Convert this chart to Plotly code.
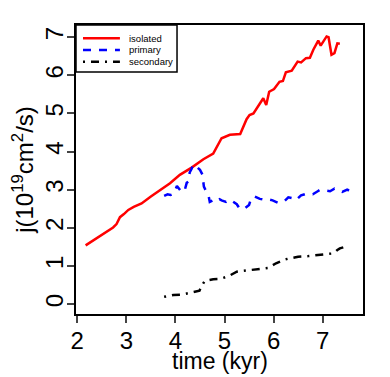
import plotly.graph_objects as go

# angular momentum vs time
isolated_t = [2.17, 2.45, 2.73, 2.80, 2.87, 2.95, 3.04, 3.15, 3.31, 3.50, 3.70, 3.89, 4.09, 4.33,
              4.57, 4.77, 4.94, 5.11, 5.32, 5.38, 5.45, 5.51, 5.59, 5.79, 5.85, 5.91, 6.01, 6.12,
              6.19, 6.25, 6.37, 6.49, 6.56, 6.66, 6.74, 6.81, 6.91, 6.96, 7.08, 7.12, 7.18, 7.24,
              7.30, 7.35]
isolated_j = [1.54, 1.77, 2.01, 2.10, 2.28, 2.36, 2.47, 2.55, 2.64, 2.82, 3.00, 3.17, 3.39, 3.58,
              3.80, 3.95, 4.35, 4.44, 4.46, 4.65, 4.85, 4.96, 5.00, 5.40, 5.22, 5.57, 5.64, 5.83,
              5.85, 6.08, 6.12, 6.36, 6.34, 6.45, 6.46, 6.67, 6.91, 6.78, 7.02, 7.00, 6.54, 6.58,
              6.84, 6.83]

primary_t = [3.77, 3.84, 3.90, 3.97, 4.03, 4.10, 4.18, 4.23, 4.27, 4.29, 4.33, 4.36, 4.42, 4.50,
             4.55, 4.58, 4.63, 4.67, 4.70, 4.76, 4.84, 4.90, 4.94, 5.03, 5.11, 5.18, 5.25, 5.30,
             5.35, 5.42, 5.50, 5.55, 5.62, 5.72, 5.80, 5.86, 5.98, 6.10, 6.22, 6.30, 6.37, 6.45,
             6.56, 6.68, 6.80, 6.90, 6.95, 7.05, 7.15, 7.24, 7.29, 7.40, 7.50, 7.56, 7.65]
primary_j = [2.84, 2.88, 2.86, 2.90, 3.10, 2.98, 2.94, 3.18, 3.22, 3.45, 3.55, 3.66, 3.62, 3.52,
             3.40, 3.08, 2.95, 2.88, 2.68, 2.72, 2.68, 2.75, 2.72, 2.68, 2.74, 2.68, 2.62, 2.52,
             2.48, 2.52, 2.60, 2.80, 2.82, 2.76, 2.74, 2.76, 2.72, 2.65, 2.70, 2.80, 2.78, 2.72,
             2.85, 2.90, 2.88, 2.96, 3.00, 2.98, 2.96, 3.03, 3.00, 2.94, 3.00, 2.97, 2.94]

secondary_t = [3.77, 3.96, 4.13, 4.30, 4.49, 4.53, 4.60, 4.77, 4.91, 5.08, 5.25, 5.38, 5.59, 5.79,
               5.89, 6.05, 6.23, 6.33, 6.50, 6.71, 6.84, 7.05, 7.22, 7.30, 7.35, 7.50]
secondary_j = [0.19, 0.24, 0.25, 0.30, 0.35, 0.47, 0.61, 0.65, 0.66, 0.73, 0.85, 0.87, 0.91, 0.93,
               0.95, 1.07, 1.17, 1.20, 1.24, 1.26, 1.28, 1.31, 1.33, 1.42, 1.46, 1.52]

legend_names = ["isolated", "primary", "secondary"]
colors = ["#ff0000", "#0000ff", "#000000"]
dashes = ["solid", "8px,8px", "2px,6px,8px,6px"]

FONT = "Liberation Sans, Arial, sans-serif"

fig = go.Figure()
series = [(isolated_t, isolated_j), (primary_t, primary_j), (secondary_t, secondary_j)]
for (t, j), name, c, d in zip(series, legend_names, colors, dashes):
    fig.add_trace(go.Scatter(x=t, y=j, mode="lines", name=name,
                             line=dict(color=c, width=2.5, dash=d)))

# hand-made legend (R style, tight rows) in the top-left corner
shapes = [dict(type="rect", xref="paper", yref="paper", x0=0, x1=0.352, y0=0.837, y1=1,
               line=dict(color="black", width=1.5), fillcolor="white")]
annotations = []
rows = [0.954, 0.9135, 0.873]
for name, c, d, yr in zip(legend_names, colors, dashes, rows):
    shapes.append(dict(type="line", xref="paper", yref="paper", x0=0.0244, x1=0.153, y0=yr, y1=yr,
                       line=dict(color=c, width=2.5, dash=d)))
    annotations.append(dict(xref="paper", yref="paper", x=0.178, y=yr, text=name, showarrow=False,
                            xanchor="left", yanchor="middle",
                            font=dict(family=FONT, size=9.5, color="black")))

# x axis title as an annotation so it can sit where R puts it
annotations.append(dict(xref="paper", yref="paper", x=0.5, y=-0.163, text="time (kyr)",
                        showarrow=False, xanchor="center", yanchor="middle",
                        font=dict(family=FONT, size=23, color="black")))

# page body adds an 8px margin, so the figure is 8px smaller and shifted
fig.update_layout(
    width=382, height=369,
    margin=dict(l=68, r=27, t=17, b=63),
    paper_bgcolor="white", plot_bgcolor="white",
    showlegend=False,
    font=dict(family=FONT, size=24, color="black"),
    shapes=shapes, annotations=annotations,
)
fig.update_xaxes(range=[1.974, 7.822], tickvals=[2, 3, 4, 5, 6, 7], ticks="outside", ticklen=7,
                 tickwidth=1.5, showline=True, linewidth=2, linecolor="black", mirror=True,
                 showgrid=False, zeroline=False, automargin=False, ticklabelstandoff=-3)
fig.update_yaxes(range=[-0.26, 7.32], tickvals=[0, 1, 2, 3, 4, 5, 6, 7], ticks="outside", ticklen=7,
                 tickwidth=1.5, tickangle=-90, showline=True, linewidth=2, linecolor="black",
                 mirror=True, showgrid=False, zeroline=False, automargin=False, ticklabelstandoff=-6,
                 title=dict(text="j(10<sup>19</sup>cm<sup>2</sup>/s)", font=dict(size=24), standoff=8))

fig.write_html("out.html")
